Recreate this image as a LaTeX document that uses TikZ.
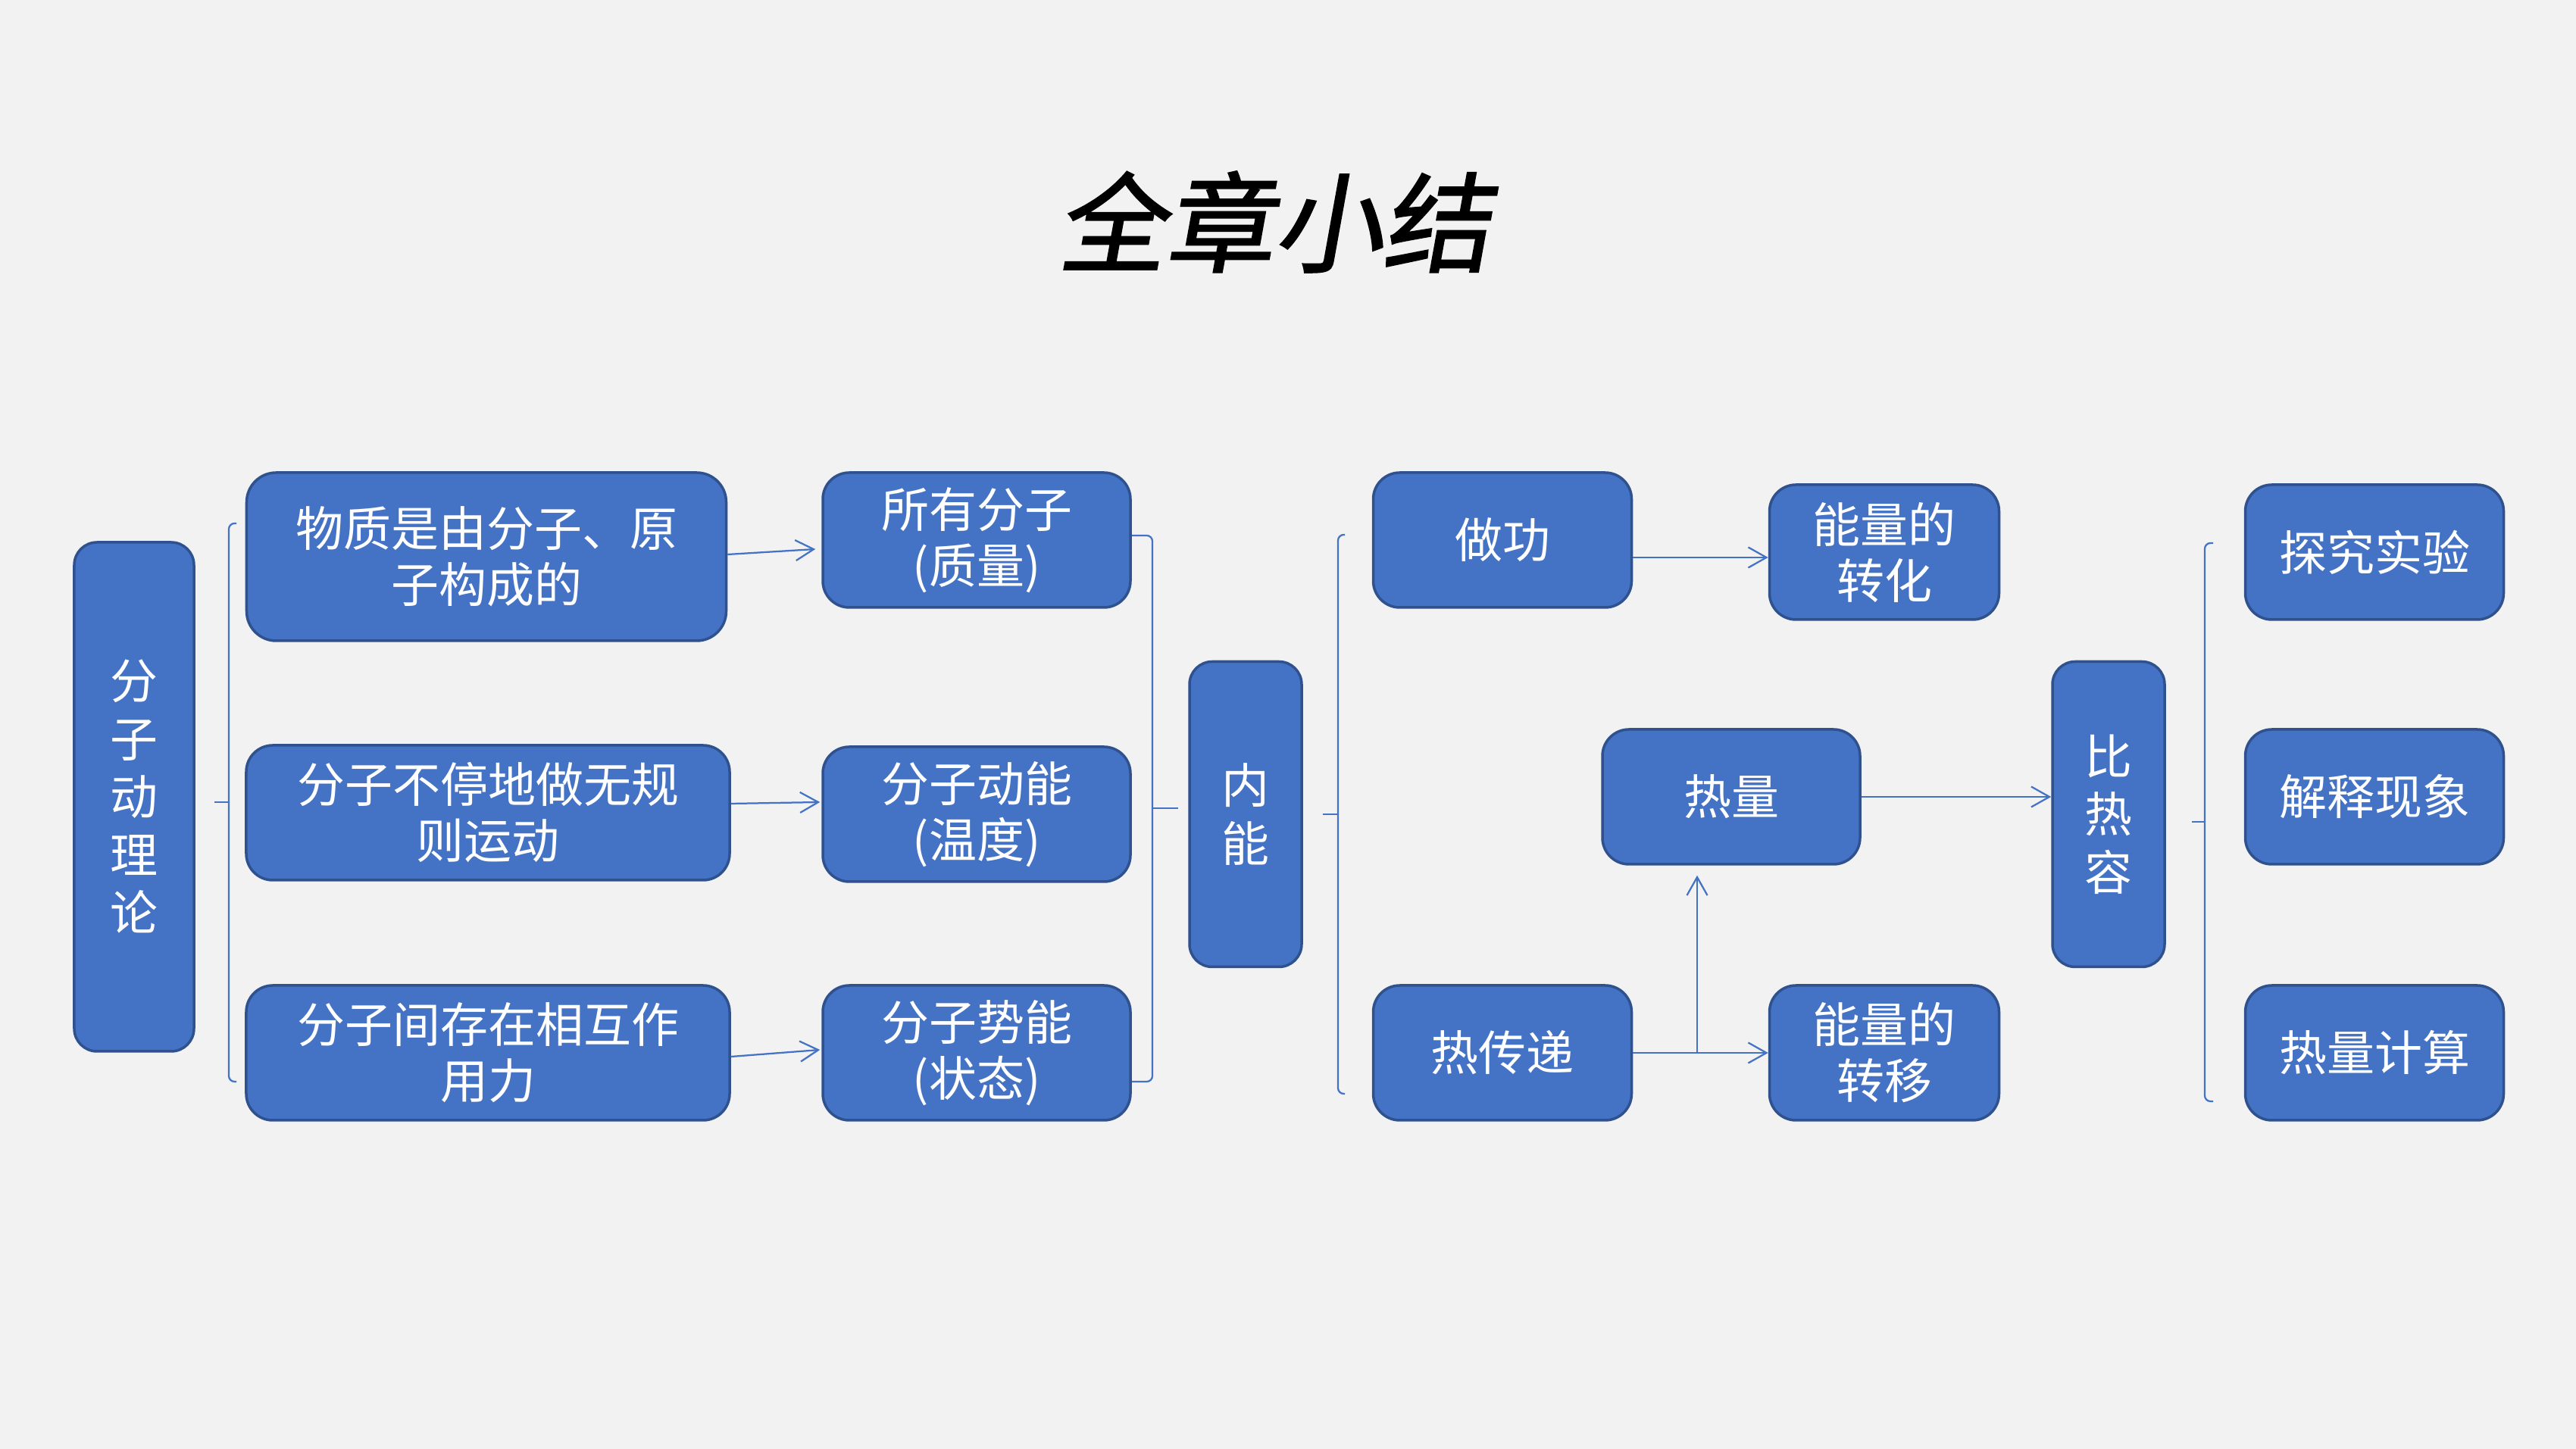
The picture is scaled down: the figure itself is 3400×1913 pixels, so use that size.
\documentclass[tikz,border=0pt]{standalone}
\usepackage{fontspec}
\newfontfamily\cjk{Noto Sans CJK SC}
\newfontfamily\titlefont[FakeSlant=0.18,FakeBold=1.5]{Noto Sans CJK SC}
\usetikzlibrary{calc,arrows.meta}
\definecolor{boxfill}{RGB}{68,114,196}
\definecolor{boxline}{RGB}{47,82,143}
\definecolor{linkc}{RGB}{68,114,196}
\definecolor{paper}{RGB}{242,242,242}
\tikzset{
  box/.style={rectangle, draw=boxline, line width=0.7pt, fill=boxfill,
    rounded corners=7pt, inner sep=0pt, align=center, text=white,
    font=\cjk\fontsize{12.6pt}{14.8pt}\selectfont},
  vbox/.style={box, rounded corners=6pt, font=\cjk\fontsize{12.6pt}{15.3pt}\selectfont},
  link/.style={draw=linkc, line width=0.45pt, -{Straight Barb[length=4.8pt,width=5.4pt]}},
  brace/.style={draw=linkc, line width=0.45pt, rounded corners=1.5pt},
}
\begin{document}
\begin{tikzpicture}[x=0.2pt,y=-0.2pt]
\fill[paper] (0,0) rectangle (3400,1913);
\useasboundingbox (0,0) rectangle (3400,1913);

\node[font=\titlefont\fontsize{28.6pt}{30pt}\selectfont] (title) at (1681,293) {全章小结};

% column 1
\node[vbox, minimum width=31.6pt, minimum height=134.4pt] (b1) at (177,1052) {分\\子\\动\\理\\论};
% column 2
\node[box, rounded corners=7.8pt, minimum width=126.6pt, minimum height=44.4pt] (b2) at (642,735) {物质是由分子、原\\子构成的};
\node[box, minimum width=127.6pt, minimum height=35.6pt] (b3) at (644,1073) {分子不停地做无规\\则运动};
\node[box, minimum width=127.6pt, minimum height=35.6pt] (b4) at (644,1390) {分子间存在相互作\\用力};
% column 3
\node[box, minimum width=81.2pt, minimum height=35.6pt] (b5) at (1289,713) {所有分子\\(质量)};
\node[box, minimum width=81.2pt, minimum height=35.6pt] (b6) at (1289,1075) {分子动能\\(温度)};
\node[box, minimum width=81.2pt, minimum height=35.6pt] (b7) at (1289,1390) {分子势能\\(状态)};
% inner energy
\node[vbox, minimum width=29.6pt, minimum height=80.6pt] (b8) at (1644,1075) {内\\能};
% column 5
\node[box, minimum width=68.2pt, minimum height=35.6pt] (b9) at (1983,713) {做功};
\node[box, minimum width=68.2pt, minimum height=35.6pt] (b10) at (1983,1390) {热传递};
\node[box, minimum width=68pt, minimum height=35.6pt] (b11) at (2285,1052) {热量};
\node[box, minimum width=60.6pt, minimum height=35.6pt] (b12) at (2487,729) {能量的\\转化};
\node[box, minimum width=60.6pt, minimum height=35.6pt] (b13) at (2487,1390) {能量的\\转移};
% specific heat
\node[vbox, minimum width=29.6pt, minimum height=80.6pt] (b14) at (2783,1075) {比\\热\\容};
% last column
\node[box, minimum width=68.2pt, minimum height=35.6pt] (b15) at (3134,729) {探究实验};
\node[box, minimum width=68.2pt, minimum height=35.6pt] (b16) at (3134,1052) {解释现象};
\node[box, minimum width=68.2pt, minimum height=35.6pt] (b17) at (3134,1390) {热量计算};

% braces
\draw[brace] (312,691) -- (302,691) -- (302,1428) -- (312,1428);
\draw[brace] (302,1059) -- (283,1059);
\draw[brace] (1494,707) -- (1521,707) -- (1521,1428) -- (1494,1428);
\draw[brace] (1521,1067) -- (1555,1067);
\draw[brace] (1775,706) -- (1766,706) -- (1766,1444) -- (1775,1444);
\draw[brace] (1766,1075) -- (1746,1075);
\draw[brace] (2921,717) -- (2910,717) -- (2910,1454) -- (2921,1454);
\draw[brace] (2910,1085) -- (2893,1085);

% arrows
\draw[link] ($(b2.east)+(0,-3)$) -- ($(b5.west)+(-8,12)$);
\draw[link] ($(b3.east)+(0,-12)$) -- ($(b6.west)+(-2,-16)$);
\draw[link] ($(b4.east)+(0,5)$) -- ($(b7.west)+(-2,-4)$);
\draw[link] ($(b9.east)+(0,23)$) -- ($(b12.west)+(0,7)$);
\draw[link] (b10.east) -- (b13.west);
\coordinate (j) at (2240,1391);
\draw[link, shorten >=2.6pt] (j) -- (j |- b11.south);
\draw[link] (b11.east) -- (b11.east -| b14.west);
\end{tikzpicture}
\end{document}
